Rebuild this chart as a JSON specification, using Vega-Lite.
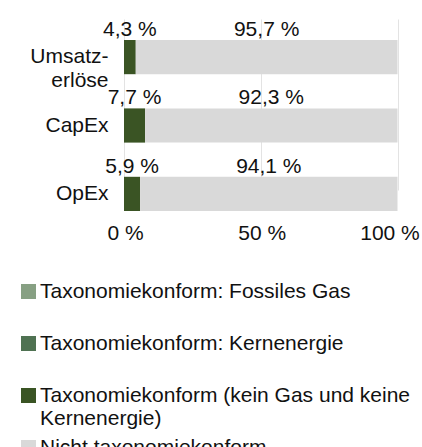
{
  "$schema": "https://vega.github.io/schema/vega-lite/v6.json",
  "autosize": {"type": "none"},
  "width": 273.5,
  "height": 192,
  "padding": {"left": 124, "top": 19, "right": 24.5, "bottom": 236},
  "config": {
    "locale": {"number": {"decimal": ",", "thousands": ".", "grouping": [3], "currency": ["", " €"], "percent": " %"}},
    "font": "Liberation Sans",
    "view": {"stroke": null}
  },
  "data": {
    "values": [
      {"kpi": "Umsatzerlöse", "series": "Taxonomiekonform (kein Gas und keine Kernenergie)", "share": 0.043},
      {"kpi": "Umsatzerlöse", "series": "Nicht taxonomiekonform", "share": 0.957},
      {"kpi": "CapEx", "series": "Taxonomiekonform (kein Gas und keine Kernenergie)", "share": 0.077},
      {"kpi": "CapEx", "series": "Nicht taxonomiekonform", "share": 0.923},
      {"kpi": "OpEx", "series": "Taxonomiekonform (kein Gas und keine Kernenergie)", "share": 0.059},
      {"kpi": "OpEx", "series": "Nicht taxonomiekonform", "share": 0.941}
    ]
  },
  "encoding": {
    "y": {
      "field": "kpi", "type": "nominal", "sort": ["Umsatzerlöse", "CapEx", "OpEx"],
      "scale": {"range": [21, 192], "paddingInner": 0.5, "paddingOuter": 0},
      "axis": {
        "title": null, "domain": false, "ticks": false, "grid": false,
        "labelFontSize": 21, "labelColor": "#111", "labelPadding": 16,
        "labelLineHeight": 24,
        "labelExpr": "datum.value == 'Umsatzerlöse' ? ['Umsatz-', 'erlöse'] : datum.value"
      }
    },
    "order": {"field": "series", "sort": "descending"}
  },
  "layer": [
    {
      "mark": {"type": "bar"},
      "encoding": {
        "x": {
          "field": "share", "type": "quantitative", "stack": "zero",
          "scale": {"domain": [0, 1], "nice": false},
          "axis": {
            "title": null, "values": [0, 0.5, 1], "format": ".0%",
            "domain": false, "ticks": false, "labelFlush": false,
            "labelFontSize": 21, "labelColor": "#111", "labelPadding": 11,
            "gridColor": "#e3e3e3",
            "labelOffset": {"condition": {"test": "datum.value == 1", "value": -8}, "value": 1}
          }
        },
        "color": {
          "field": "series", "type": "nominal",
          "scale": {
            "domain": ["Taxonomiekonform: Fossiles Gas", "Taxonomiekonform: Kernenergie", "Taxonomiekonform (kein Gas und keine Kernenergie)", "Nicht taxonomiekonform"],
            "range": ["#87a083", "#4f7252", "#3a5424", "#d9d9d9"]
          },
          "legend": {
            "orient": "none", "legendX": -106, "legendY": 262, "direction": "vertical",
            "title": null, "padding": 0, "gridAlign": "all",
            "symbolType": "square", "symbolSize": 225, "symbolStrokeWidth": 0,
            "labelFontSize": 21, "labelColor": "#111", "labelOffset": 1, "labelLimit": 500,
            "rowPadding": 7, "labelLineHeight": 19,
            "labelExpr": "datum.label == 'Taxonomiekonform (kein Gas und keine Kernenergie)' ? ['Taxonomiekonform (kein Gas und keine', 'Kernenergie)'] : datum.label == 'Nicht taxonomiekonform' ? ' Nicht taxonomiekonform' : datum.label"
          }
        }
      }
    },
    {
      "mark": {"type": "text", "baseline": "alphabetic", "dy": -4, "fontSize": 21, "color": "#111"},
      "encoding": {
        "x": {"field": "share", "type": "quantitative", "stack": "zero", "bandPosition": 0.5},
        "y": {"field": "kpi", "type": "nominal", "sort": ["Umsatzerlöse", "CapEx", "OpEx"], "bandPosition": 0},
        "detail": {"field": "series"},
        "text": {"field": "share", "type": "quantitative", "format": ".1%"}
      }
    }
  ]
}
